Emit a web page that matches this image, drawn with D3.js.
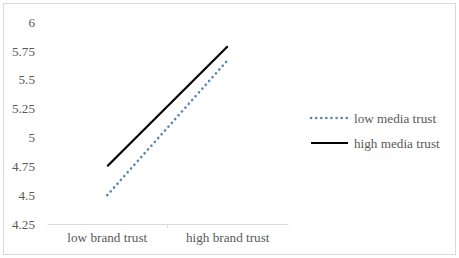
<!DOCTYPE html>
<html>
<head>
<meta charset="utf-8">
<script src="https://cdn.jsdelivr.net/npm/d3@7"></script>
<style>
  body { margin: 0; background: #fff; }
  text { font-family: "Liberation Serif", "Times New Roman", serif; fill: #595959; }
</style>
</head>
<body>
<div id="chart"></div>
<script>
// data
const categories = ["low brand trust", "high brand trust"];
const seriesNames = ["low media trust", "high media trust"];
const lowMedia = [4.5, 5.67];
const highMedia = [4.75, 5.79];
const yTicks = [4.25, 4.5, 4.75, 5, 5.25, 5.5, 5.75, 6];

const Width = 459, Height = 258;
const Margin = {top: 22, right: 171, bottom: 34, left: 47};
const FontSize = "13.2px";

const svg = d3.select("#chart").append("svg")
    .attr("width", Width).attr("height", Height);

// chart frame
svg.append("rect").attr("x", 3.5).attr("y", 3.5)
    .attr("width", Width - 7).attr("height", Height - 7)
    .attr("fill", "#fff").attr("stroke", "#d9d9d9");

const ScaleX = d3.scaleBand().domain(categories)
    .range([Margin.left, Width - Margin.right]);
const ScaleY = d3.scaleLinear().domain([4.25, 6])
    .range([Height - Margin.bottom, Margin.top]);

// y axis labels only
const AxisY = d3.axisLeft(ScaleY).tickValues(yTicks)
    .tickFormat(d => d3.format("")(d)).tickSize(0).tickPadding(12);
svg.append("g").attr("transform", `translate(${Margin.left},0)`).call(AxisY)
    .call(g => g.select(".domain").remove())
    .selectAll("text").style("font-size", FontSize);

// x axis
const AxisX = d3.axisBottom(ScaleX).tickSize(0).tickPadding(9);
const gx = svg.append("g").attr("transform", `translate(0,${Height - Margin.bottom})`).call(AxisX);
gx.select(".domain").attr("stroke", "#d9d9d9");
gx.selectAll("text").style("font-size", FontSize);
gx.append("line")
    .attr("x1", ScaleX(categories[1])).attr("x2", ScaleX(categories[1]))
    .attr("y1", 0).attr("y2", 4).attr("stroke", "#d9d9d9");

const Line = d3.line()
    .x((d, i) => ScaleX(categories[i]) + ScaleX.bandwidth() / 2)
    .y(d => ScaleY(d));

const styles = [
    {stroke: "#5b84be", width: 2.6, dash: "0.1 5", cap: "round"},
    {stroke: "#000", width: 2.2, dash: null, cap: "butt"}
];

[lowMedia, highMedia].forEach((vals, k) => {
    svg.append("path").attr("d", Line(vals))
        .attr("fill", "none")
        .attr("stroke", styles[k].stroke)
        .attr("stroke-width", styles[k].width)
        .attr("stroke-dasharray", styles[k].dash)
        .attr("stroke-linecap", styles[k].cap);
});

// legend
const Legend = svg.append("g").attr("transform", "translate(310,118)");
seriesNames.forEach((name, k) => {
    const row = Legend.append("g").attr("transform", `translate(0,${k * 25})`);
    row.append("line").attr("x1", 1).attr("x2", 38).attr("y1", 0).attr("y2", 0)
        .attr("stroke", styles[k].stroke)
        .attr("stroke-width", styles[k].width)
        .attr("stroke-dasharray", styles[k].dash)
        .attr("stroke-linecap", styles[k].cap);
    row.append("text").attr("x", 44).attr("y", 4.5)
        .style("font-size", FontSize).text(name);
});
</script>
</body>
</html>
